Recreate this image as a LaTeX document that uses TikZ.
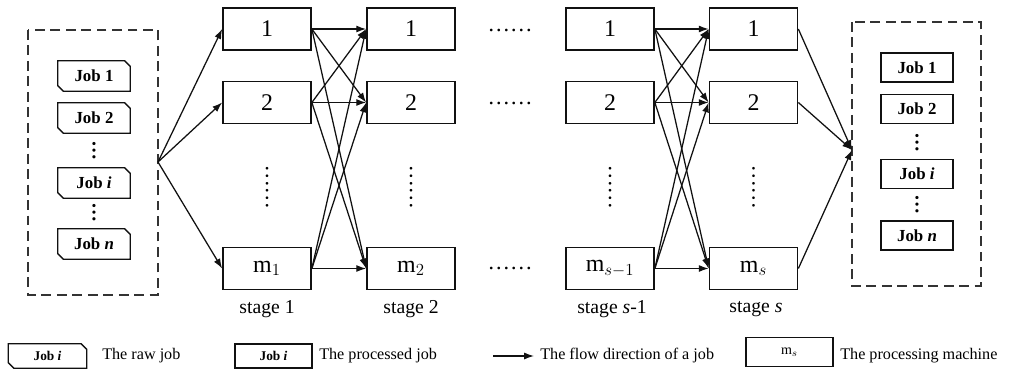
\documentclass[tikz,border=0pt]{standalone}
\usepackage{fontspec}
\setmainfont{Liberation Serif}
\usetikzlibrary{positioning, arrows.meta}
\definecolor{Scuro}{HTML}{111111}
\definecolor{Tratto}{HTML}{333333}
\tikzset{
    macchina/.style={rectangle, draw=Scuro, line width=1.2pt, minimum width=2.2cm, minimum height=1.05cm, inner sep=0pt, font=\fontsize{17}{20}\selectfont},
    grezzo/.style={rectangle, minimum width=1.8cm, minimum height=0.75cm, inner sep=0pt, font=\bfseries\fontsize{12}{14}\selectfont},
    bordo/.style={draw=Scuro, line width=1pt, line join=miter},
    finito/.style={rectangle, draw=Scuro, line width=1.1pt, minimum width=1.8cm, minimum height=0.72cm, inner sep=0pt, font=\bfseries\fontsize{12}{14}\selectfont},
    freccia/.style={-{Latex[length=7pt, width=5pt]}, line width=0.9pt, color=Scuro},
    gruppo/.style={draw=Tratto, dash pattern=on 7pt off 4pt, line width=1.2pt},
    puntini/.style={font=\fontsize{16}{16}\selectfont, inner sep=0pt},
    puntinijob/.style={font=\bfseries\fontsize{14}{14}\selectfont, rotate=90, inner sep=0pt},
    stadio/.style={font=\fontsize{14}{16}\selectfont},
    legenda/.style={font=\fontsize{11.5}{13}\selectfont, anchor=west, inner sep=0pt},
}

\begin{document}
\begin{tikzpicture}[x=0.025cm, y=-0.025cm]
    \useasboundingbox (0,0) rectangle (1022,376);

    % Lavori grezzi
    \draw[gruppo] (28,30) rectangle (158,295);
    \node[grezzo] (g1) at (94,76) {Job 1};
    \node[grezzo] (g2) at (94,118) {Job 2};
    \node[puntinijob] (gd1) at (94,151) {…};
    \node[grezzo] (gi) at (94,183) {Job \textit{i}};
    \node[puntinijob] (gd2) at (94,213) {…};
    \node[grezzo] (gn) at (94,244) {Job \textit{n}};
    \coordinate (ingresso) at (158,162);

    % Stadi e macchine
    \node[macchina] (a-1) at (267,29) {1};
    \node[macchina] (a-2) at (267,102.5) {2};
    \node[macchina] (a-m) at (267,268.5) {$\mathrm{m}_1$};
    \node[macchina] (b-1) at (411,29) {1};
    \node[macchina] (b-2) at (411,102.5) {2};
    \node[macchina] (b-m) at (411,268.5) {$\mathrm{m}_2$};
    \node[macchina] (c-1) at (610,29) {1};
    \node[macchina] (c-2) at (610,102.5) {2};
    \node[macchina] (c-m) at (610,268.5) {$\mathrm{m}_{s-1}$};
    \node[macchina] (d-1) at (753.5,29) {1};
    \node[macchina] (d-2) at (753.5,102.5) {2};
    \node[macchina] (d-m) at (753.5,268.5) {$\mathrm{m}_{s}$};

    \foreach \c/\x in {a/267, b/411, c/610, d/753.5}
        \node[puntini, rotate=90] (\c-v) at (\x,187) {……};
    \node[puntini] (h-1) at (510,30) {……};
    \node[puntini] (h-2) at (510,103) {……};
    \node[puntini] (h-m) at (510,268) {……};

    \node[stadio] (st1) at (267,309) {stage 1};
    \node[stadio] (st2) at (411,309) {stage 2};
    \node[stadio] (st3) at (612,309) {stage \textit{s}-1};
    \node[stadio] (st4) at (756,309) {stage \textit{s}};

    % Lavori completati
    \draw[gruppo] (852,22) rectangle (981,286);
    \node[finito] (f1) at (917,67.5) {Job 1};
    \node[finito] (f2) at (917,109) {Job 2};
    \node[puntinijob] (fd1) at (917,143) {…};
    \node[finito] (fi) at (917,174) {Job \textit{i}};
    \node[puntinijob] (fd2) at (917,205) {…};
    \node[finito] (fn) at (917,235.5) {Job \textit{n}};
    \coordinate (uscita) at (852,150);

    % Frecce
    \foreach \j in {1,2,m}
        \draw[freccia] (ingresso) -- (a-\j.west);
    \foreach \p/\q in {a/b, c/d}
        \foreach \i in {1,2,m}
            \foreach \j in {1,2,m}
                \draw[freccia] (\p-\i.east) -- (\q-\j.west);
    \foreach \i in {1,2,m}
        \draw[freccia] (d-\i.east) -- (uscita);

    % Legenda
    \node[grezzo, minimum width=1.95cm, minimum height=0.6cm, font=\bfseries\fontsize{9.5}{11}\selectfont] (lg) at (47.5,356) {Job \textit{i}};
    \node[legenda] (lgt) at (102,356) {The raw job};
    \node[finito, minimum width=1.92cm, minimum height=0.6cm, font=\bfseries\fontsize{9.5}{11}\selectfont] (lf) at (273.5,356) {Job \textit{i}};
    \node[legenda] (lft) at (319,356) {The processed job};
    \coordinate (la0) at (493,356);
    \coordinate (la1) at (534,356);
    \draw[freccia] (la0) -- (la1);
    \node[legenda] (lat) at (540,356) {The flow direction of a job};
    \node[macchina, minimum width=2.17cm, minimum height=0.72cm, font=\fontsize{10}{12}\selectfont] (lm) at (789.5,352) {$\mathrm{m}_s$};
    \node[legenda] (lmt) at (840,356) {The processing machine};

    % Bordi smussati dei lavori grezzi
    \foreach \n in {g1, g2, gi, gn, lg}
        \draw[bordo] (\n.north west) -- ([xshift=-4pt]\n.north east) -- ([yshift=-4pt]\n.north east)
            -- (\n.south east) -- ([xshift=4pt]\n.south west) -- ([yshift=4pt]\n.south west) -- cycle;
\end{tikzpicture}
\end{document}
